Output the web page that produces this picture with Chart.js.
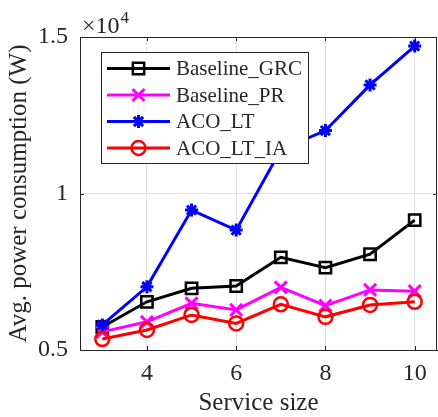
<!DOCTYPE html>
<html>
<head>
<meta charset="utf-8">
<script src="https://cdn.jsdelivr.net/npm/chart.js@4.4.1/dist/chart.umd.min.js"></script>
<style>
    html, body { margin: 0; padding: 0; background: #fff; }
    #powerChart { display: block; }
</style>
</head>
<body>
<canvas id="powerChart" width="438" height="417"></canvas>
<script>
const serviceSizes = [3, 4, 5, 6, 7, 8, 9, 10];
const baselineGrc = [5735, 6540, 6970, 7045, 7960, 7630, 8060, 9150];
const baselinePr = [5580, 5900, 6490, 6280, 7000, 6420, 6920, 6880];
const acoLt = [5800, 7020, 9470, 8830, 11400, 12010, 13470, 14710];
const acoLtIa = [5350, 5640, 6120, 5850, 6460, 6060, 6440, 6540];
const seriesNames = ['Baseline_GRC', 'Baseline_PR', 'ACO_LT', 'ACO_LT_IA'];
const xTicks = [4, 6, 8, 10];
const yTicks = [5000, 10000, 15000];
const yTickLabels = ['0.5', '1', '1.5'];

const FONT = "'Liberation Serif', 'DejaVu Serif', serif";
const AXIS_COLOR = '#262626';

const PowerChart = {
    chartInstance: null,

    init: () => {
        Chart.defaults.font.family = FONT;
        Chart.defaults.color = AXIS_COLOR;
        PowerChart.drawChart();
    },

    toPoints: (values) => serviceSizes.map((x, i) => ({ x: x, y: values[i] })),

    // inward ticks, top/right frame, legend box and the x10^4 factor
    framePlugin: {
        id: 'matlabFrame',
        afterDraw: (chart) => {
            const ctx = chart.ctx;
            const area = chart.chartArea;
            const xs = chart.scales.x;
            const ys = chart.scales.y;
            const tl = 4;

            ctx.save();
            ctx.strokeStyle = AXIS_COLOR;
            ctx.lineWidth = 1;
            ctx.beginPath();
            ctx.moveTo(area.left, area.top + 0.5);
            ctx.lineTo(area.right - 0.5, area.top + 0.5);
            ctx.lineTo(area.right - 0.5, area.bottom);
            xTicks.forEach(v => {
                const px = Math.round(xs.getPixelForValue(v)) + 0.5;
                ctx.moveTo(px, area.bottom);
                ctx.lineTo(px, area.bottom - tl);
                ctx.moveTo(px, area.top);
                ctx.lineTo(px, area.top + tl);
            });
            yTicks.forEach(v => {
                const py = Math.round(ys.getPixelForValue(v)) + 0.5;
                ctx.moveTo(area.left, py);
                ctx.lineTo(area.left + tl, py);
                ctx.moveTo(area.right, py);
                ctx.lineTo(area.right - tl, py);
            });
            ctx.stroke();

            // exponent label
            ctx.fillStyle = AXIS_COLOR;
            ctx.textBaseline = 'alphabetic';
            ctx.textAlign = 'left';
            ctx.font = '24px ' + FONT;
            const base = '\u00d710';
            ctx.fillText(base, area.left + 2, 33);
            const w = ctx.measureText(base).width;
            ctx.font = '17px ' + FONT;
            ctx.fillText('4', area.left + 3 + w, 23);

            // legend
            const box = { x: 101, y: 52, w: 207, h: 111 };
            ctx.fillStyle = '#fff';
            ctx.fillRect(box.x, box.y, box.w, box.h);
            ctx.strokeStyle = AXIS_COLOR;
            ctx.strokeRect(box.x + 0.5, box.y + 0.5, box.w, box.h);

            chart.data.datasets.forEach((ds, i) => {
                const y = 68.5 + i * 26.5;
                ctx.strokeStyle = ds.borderColor;
                ctx.lineWidth = ds.borderWidth;
                ctx.beginPath();
                ctx.moveTo(107, y);
                ctx.lineTo(170, y);
                ctx.stroke();

                ctx.fillStyle = 'rgba(0,0,0,0)';
                ctx.lineWidth = ds.pointBorderWidth;
                Chart.helpers.drawPoint(ctx, {
                    pointStyle: ds.pointStyle,
                    radius: ds.pointRadius,
                    rotation: 0,
                    borderWidth: ds.pointBorderWidth
                }, 138.5, y);

                ctx.fillStyle = AXIS_COLOR;
                ctx.font = '21px ' + FONT;
                ctx.textBaseline = 'middle';
                ctx.fillText(ds.label, 176, y + 1);
            });
            ctx.restore();
        }
    },

    drawChart: () => {
        const canvas = document.getElementById('powerChart');
        if (!canvas) return;
        const ctx = canvas.getContext('2d');

        if (PowerChart.chartInstance) {
            PowerChart.chartInstance.destroy();
        }

        const line = (label, values, color, style, radius, pbw, order) => ({
            label: label,
            data: PowerChart.toPoints(values),
            borderColor: color,
            backgroundColor: color,
            borderWidth: 3,
            pointStyle: style,
            pointRadius: radius,
            pointBorderWidth: pbw,
            pointBorderColor: color,
            pointBackgroundColor: 'rgba(0,0,0,0)',
            tension: 0,
            fill: false,
            clip: false,
            order: order
        });

        PowerChart.chartInstance = new Chart(ctx, {
            type: 'line',
            data: {
                datasets: [
                    line(seriesNames[0], baselineGrc, '#000000', 'rect', 8, 2.5, 4),
                    line(seriesNames[1], baselinePr, '#ff00ff', 'crossRot', 8.5, 3, 3),
                    line(seriesNames[2], acoLt, '#0000ff', 'star', 6.5, 3, 2),
                    line(seriesNames[3], acoLtIa, '#ff0000', 'circle', 7, 2.5, 1)
                ]
            },
            options: {
                responsive: false,
                animation: false,
                events: [],
                layout: {
                    autoPadding: false,
                    padding: { top: 37, right: 1, bottom: 0, left: 0 }
                },
                plugins: {
                    legend: { display: false },
                    tooltip: { enabled: false }
                },
                scales: {
                    x: {
                        type: 'linear',
                        min: 2.5,
                        max: 10.5,
                        afterBuildTicks: (s) => { s.ticks = xTicks.map(v => ({ value: v })); },
                        afterFit: (s) => {
                            s.height = 67;
                            s.paddingLeft = 0;
                            s.paddingRight = 0;
                        },
                        grid: { color: '#e0e0e0', lineWidth: 1, drawTicks: false },
                        border: { color: AXIS_COLOR, width: 1 },
                        ticks: {
                            padding: 12,
                            color: AXIS_COLOR,
                            font: { size: 24, lineHeight: 1 },
                            callback: (v) => String(v)
                        },
                        title: {
                            display: true,
                            text: 'Service size',
                            color: AXIS_COLOR,
                            font: { size: 25, lineHeight: 1 },
                            padding: { top: 0, bottom: 1 }
                        }
                    },
                    y: {
                        min: 5000,
                        max: 15000,
                        afterBuildTicks: (s) => { s.ticks = yTicks.map(v => ({ value: v })); },
                        afterFit: (s) => {
                            s.width = 80;
                            s.paddingTop = 0;
                            s.paddingBottom = 0;
                        },
                        grid: { color: '#e0e0e0', lineWidth: 1, drawTicks: false },
                        border: { color: AXIS_COLOR, width: 1 },
                        ticks: {
                            padding: 12,
                            color: AXIS_COLOR,
                            font: { size: 24, lineHeight: 1 },
                            callback: (v) => yTickLabels[yTicks.indexOf(v)]
                        },
                        title: {
                            display: true,
                            text: 'Avg. power consumption (W)',
                            color: AXIS_COLOR,
                            font: { size: 25, lineHeight: 1 },
                            padding: { top: 7, bottom: 0 }
                        }
                    }
                }
            },
            plugins: [PowerChart.framePlugin]
        });
    }
};

window.PowerChart = PowerChart;
if (document.readyState === 'loading') {
    document.addEventListener('DOMContentLoaded', () => PowerChart.init());
} else {
    PowerChart.init();
}
</script>
</body>
</html>
